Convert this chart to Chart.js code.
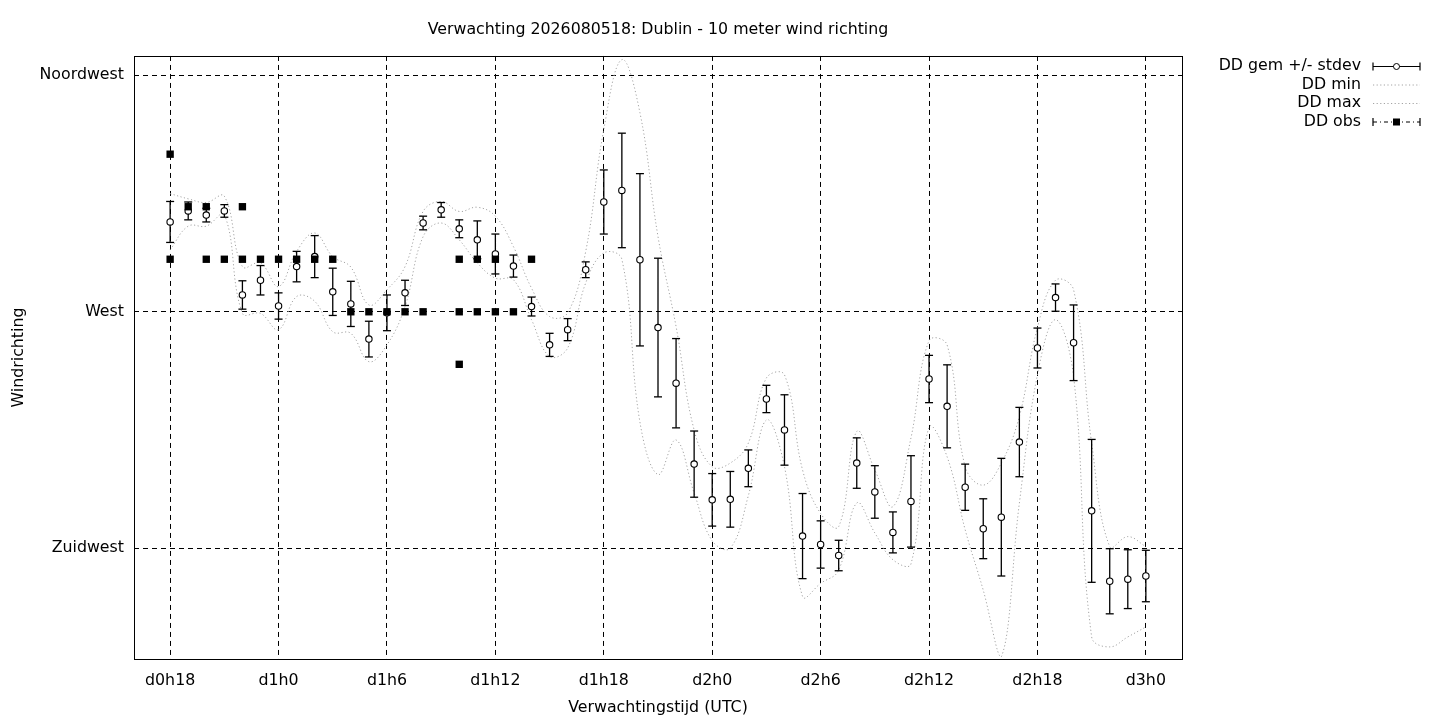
<!DOCTYPE html>
<html>
<head>
<meta charset="UTF-8">
<title>Verwachting Dublin - wind richting</title>
<script src="https://cdn.jsdelivr.net/npm/chart.js"></script>
<style>
    body { margin: 0; background: #fff; }
    #wrap { width: 1440px; height: 720px; position: relative; }
</style>
</head>
<body>
<div id="wrap"><canvas id="chart"></canvas></div>
<script>
    // hours since d0h0
    const hours = [18, 19, 20, 21, 22, 23, 24, 25, 26, 27, 28, 29, 30, 31, 32, 33, 34, 35, 36, 37,
        38, 39, 40, 41, 42, 43, 44, 45, 46, 47, 48, 49, 50, 51, 52, 53, 54, 55, 56, 57,
        58, 59, 60, 61, 62, 63, 64, 65, 66, 67, 68, 69, 70, 71, 72];

    const ddGem = [287.1, 289.2, 288.4, 289.2, 273.2, 276.0, 271.1, 278.6, 280.5, 273.8,
        271.5, 264.8, 269.8, 273.6, 286.9, 289.4, 285.8, 283.7, 281.0, 278.7,
        271.0, 263.7, 266.6, 278.0, 290.9, 293.1, 279.9, 267.0, 256.4, 241.0,
        234.2, 234.3, 240.2, 253.4, 247.5, 227.3, 225.7, 223.6, 241.2, 235.7,
        228.0, 233.9, 257.2, 252.0, 236.6, 228.7, 230.9, 245.2, 263.1, 272.7,
        264.1, 232.1, 218.7, 219.1, 219.7];

    const ddStdev = [3.9, 1.7, 1.3, 1.2, 2.7, 2.8, 2.5, 2.9, 4.0, 4.5,
        4.3, 3.4, 3.4, 2.4, 1.3, 1.4, 1.7, 3.6, 3.8, 2.1,
        1.8, 2.2, 2.1, 1.5, 6.1, 10.9, 16.4, 13.2, 8.5, 6.3,
        5.0, 5.3, 3.5, 2.6, 6.7, 8.1, 4.5, 2.9, 4.8, 5.0,
        3.9, 8.7, 4.5, 7.9, 4.4, 5.7, 11.2, 6.6, 3.8, 2.6,
        7.2, 13.6, 6.2, 5.6, 4.9];

    const ddMin = [281.8, 286.3, 286.3, 288.5, 269.7, 269.7, 266.6, 272.9, 272.0, 266.2,
        265.9, 260.5, 263.7, 271.0, 284.3, 286.9, 283.7, 279.3, 276.4, 276.1,
        268.5, 261.5, 263.1, 275.5, 281.2, 280.0, 249.0, 239.0, 245.6, 235.5,
        226.4, 225.0, 235.0, 249.4, 240.5, 215.8, 218.3, 220.8, 233.6, 227.9,
        222.8, 222.0, 248.0, 242.4, 228.5, 217.0, 204.3, 233.6, 258.0, 268.5,
        257.7, 208.1, 206.2, 208.1, 210.0];

    const ddMax = [292.5, 291.5, 290.8, 292.0, 278.6, 279.3, 274.8, 281.5, 285.0, 280.5,
        278.5, 271.3, 274.2, 278.6, 289.1, 291.0, 289.1, 289.9, 288.2, 282.4,
        274.5, 269.1, 269.8, 281.5, 304.7, 318.0, 307.9, 284.3, 267.2, 247.5,
        240.5, 241.2, 245.0, 257.4, 258.0, 239.9, 231.6, 229.1, 247.2, 239.9,
        232.9, 246.0, 264.5, 263.7, 240.5, 237.0, 241.2, 250.1, 267.0, 276.0,
        274.2, 245.0, 225.3, 227.2, 225.3];

    const obsHours = [18, 18, 19, 20, 20, 21, 22, 22, 23, 24, 25, 26, 27, 28, 29, 30, 31, 32,
        34, 34, 34, 35, 35, 36, 36, 37, 38];
    const obsValues = [300, 280, 290, 290, 280, 280, 290, 280, 280, 280, 280, 280, 280, 270, 270, 270, 270, 270,
        280, 270, 260, 280, 270, 280, 270, 270, 280];

    const xTickValues = [18, 24, 30, 36, 42, 48, 54, 60, 66, 72];
    const xTickLabels = ['d0h18', 'd1h0', 'd1h6', 'd1h12', 'd1h18', 'd2h0', 'd2h6', 'd2h12', 'd2h18', 'd3h0'];
    const yTickValues = [225, 270, 315];
    const yTickLabels = ['Zuidwest', 'West', 'Noordwest'];

    const legendLabels = ['DD gem +/- stdev', 'DD min', 'DD max', 'DD obs'];

    const FONT_SIZE = 15.8;
    Chart.defaults.font.family = '"DejaVu Sans", sans-serif';
    Chart.defaults.font.size = FONT_SIZE;
    Chart.defaults.color = '#000';

    const dotted = [1.2, 2.4];
    const minGray = '#a4a4a4';

    // error bar stems, broken by null points
    const stems = [];
    const caps = [];
    hours.forEach((h, i) => {
        const lo = ddGem[i] - ddStdev[i];
        const hi = ddGem[i] + ddStdev[i];
        stems.push({x: h, y: lo}, {x: h, y: hi}, {x: h, y: null});
        caps.push({x: h, y: lo}, {x: h, y: hi});
    });

    const framePlugin = {
        id: 'frame',
        afterDraw(chart) {
            const {ctx, chartArea: a} = chart;
            ctx.save();
            ctx.strokeStyle = '#000';
            ctx.lineWidth = 1;
            ctx.setLineDash([]);
            ctx.strokeRect(Math.round(a.left) + 0.5, Math.round(a.top) + 0.5,
                Math.round(a.right - a.left), Math.round(a.bottom - a.top));
            ctx.restore();
        }
    };

    // gnuplot style key: text right aligned, sample to the right
    const keyPlugin = {
        id: 'gpkey',
        afterDraw(chart) {
            const ctx = chart.ctx;
            const textRight = 1361, x1 = 1373, x2 = 1420, xm = (x1 + x2) / 2;
            const rows = [66, 84.5, 103, 121.5];
            ctx.save();
            ctx.font = FONT_SIZE + 'px "DejaVu Sans", sans-serif';
            ctx.fillStyle = '#000';
            ctx.textAlign = 'right';
            ctx.textBaseline = 'middle';
            legendLabels.forEach((t, i) => ctx.fillText(t, textRight, rows[i]));

            // gem +/- stdev
            let y = rows[0] + 0.5;
            ctx.strokeStyle = '#000';
            ctx.lineWidth = 1.2;
            ctx.beginPath();
            ctx.moveTo(x1, y); ctx.lineTo(x2, y);
            ctx.moveTo(x1, y - 4); ctx.lineTo(x1, y + 4);
            ctx.moveTo(x2, y - 4); ctx.lineTo(x2, y + 4);
            ctx.stroke();
            ctx.beginPath();
            ctx.arc(xm, y, 3, 0, Math.PI * 2);
            ctx.fillStyle = '#fff';
            ctx.fill();
            ctx.lineWidth = 1;
            ctx.stroke();

            // min / max
            ctx.strokeStyle = minGray;
            ctx.setLineDash(dotted);
            [rows[1], rows[2]].forEach(r => {
                ctx.beginPath();
                ctx.moveTo(x1, r + 0.5); ctx.lineTo(x2, r + 0.5);
                ctx.stroke();
            });

            // obs
            y = rows[3] + 0.5;
            ctx.strokeStyle = '#000';
            ctx.lineWidth = 1.2;
            ctx.setLineDash([4, 3, 1, 3]);
            ctx.beginPath();
            ctx.moveTo(x1, y); ctx.lineTo(x2, y);
            ctx.stroke();
            ctx.setLineDash([]);
            ctx.beginPath();
            ctx.moveTo(x1, y - 4); ctx.lineTo(x1, y + 4);
            ctx.moveTo(x2, y - 4); ctx.lineTo(x2, y + 4);
            ctx.stroke();
            ctx.fillStyle = '#000';
            ctx.fillRect(xm - 3.5, y - 3.5, 7, 7);
            ctx.restore();
        }
    };

    new Chart(document.getElementById('chart'), {
        type: 'scatter',
        data: {
            datasets: [
                {
                    label: 'DD obs',
                    data: obsHours.map((h, i) => ({x: h, y: obsValues[i]})),
                    pointStyle: 'rect',
                    pointRadius: 5.2,
                    backgroundColor: '#000',
                    borderColor: '#000',
                    borderWidth: 0
                },
                {
                    label: 'DD gem',
                    data: hours.map((h, i) => ({x: h, y: ddGem[i]})),
                    pointStyle: 'circle',
                    pointRadius: 3.2,
                    backgroundColor: '#fff',
                    borderColor: '#000',
                    borderWidth: 1.1
                },
                {
                    label: 'caps',
                    data: caps,
                    pointStyle: 'line',
                    pointRadius: 4,
                    borderColor: '#000',
                    borderWidth: 1.3
                },
                {
                    label: 'stdev',
                    data: stems,
                    showLine: true,
                    spanGaps: false,
                    pointRadius: 0,
                    borderColor: '#000',
                    borderWidth: 1.3,
                    tension: 0
                },
                {
                    label: 'DD max',
                    data: hours.map((h, i) => ({x: h, y: ddMax[i]})),
                    showLine: true,
                    pointRadius: 0,
                    borderColor: minGray,
                    borderWidth: 1,
                    borderDash: dotted,
                    tension: 0.4
                },
                {
                    label: 'DD min',
                    data: hours.map((h, i) => ({x: h, y: ddMin[i]})),
                    showLine: true,
                    pointRadius: 0,
                    borderColor: minGray,
                    borderWidth: 1,
                    borderDash: dotted,
                    tension: 0.4
                }
            ]
        },
        options: {
            responsive: true,
            maintainAspectRatio: false,
            animation: false,
            layout: { padding: { left: 0, right: 258, top: 0, bottom: 0 } },
            plugins: {
                legend: { display: false },
                tooltip: { enabled: false },
                title: {
                    display: true,
                    text: 'Verwachting 2026080518: Dublin - 10 meter wind richting',
                    fullSize: false,
                    font: { size: FONT_SIZE, weight: 'normal' },
                    padding: { top: 20, bottom: 17 }
                }
            },
            scales: {
                x: {
                    type: 'linear',
                    min: 16,
                    max: 74,
                    afterBuildTicks: s => { s.ticks = xTickValues.map(v => ({value: v})); },
                    afterFit: s => { s.height = 61; },
                    ticks: {
                        padding: 12,
                        maxRotation: 0,
                        callback: v => xTickLabels[xTickValues.indexOf(v)]
                    },
                    grid: { color: '#000', lineWidth: 1, drawTicks: false },
                    border: { display: false, dash: [5, 4] },
                    title: { display: true, text: 'Verwachtingstijd (UTC)', padding: { top: 4, bottom: 3 } }
                },
                y: {
                    type: 'linear',
                    min: 203.9,
                    max: 318.7,
                    afterBuildTicks: s => { s.ticks = yTickValues.map(v => ({value: v})); },
                    afterFit: s => { s.width = 134; },
                    ticks: {
                        padding: 10,
                        callback: v => yTickLabels[yTickValues.indexOf(v)]
                    },
                    grid: { color: '#000', lineWidth: 1, drawTicks: false },
                    border: { display: false, dash: [5, 4] },
                    title: { display: true, text: 'Windrichting', padding: { top: 9, bottom: 4 } }
                }
            }
        },
        plugins: [framePlugin, keyPlugin]
    });
</script>
</body>
</html>
